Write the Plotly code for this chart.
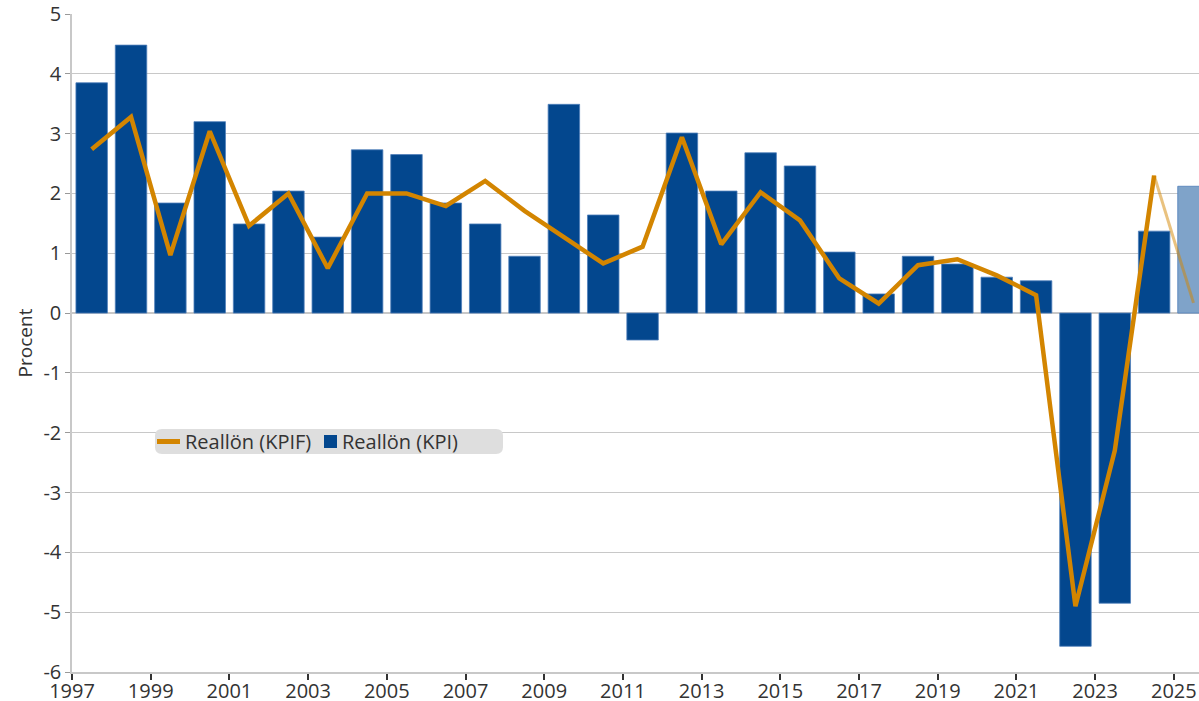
import plotly.graph_objects as go

years = list(range(1997, 2026))
kpi = [3.85, 4.48, 1.84, 3.20, 1.49, 2.04, 1.27, 2.73, 2.65, 1.84,
       1.49, 0.95, 3.49, 1.64, -0.45, 3.01, 2.04, 2.68, 2.46, 1.02,
       0.32, 0.95, 0.82, 0.60, 0.54, -5.57, -4.85, 1.37, 2.12]
kpif = [2.74, 3.28, 0.97, 3.04, 1.46, 2.00, 0.75, 2.00, 2.00, 1.79,
        2.21, 1.71, 1.27, 0.83, 1.11, 2.94, 1.15, 2.02, 1.55, 0.58,
        0.16, 0.80, 0.90, 0.63, 0.30, -4.90, -2.30, 2.30, 0.17]
xticks = list(range(1997, 2026, 2))
yticks = list(range(-6, 6))
legend_names = ["Reallön (KPIF)", "Reallön (KPI)"]

BLUE = "#03478E"
LIGHT_BLUE = "#7FA3C9"
ORANGE = "#D38500"
FONT = "Open Sans"

W, H = 1199, 701
ML, MR, MT, MB = 72, 0, 14, 29
PW, PH = W - ML - MR, H - MT - MB


def px(x):  # pixel x -> paper
    return (x - ML) / PW


def py(y):  # pixel y -> paper
    return (H - MB - y) / PH


xc = [y + 0.5 for y in years]
bar_colors = [BLUE] * (len(years) - 1) + [LIGHT_BLUE]

fig = go.Figure()
fig.add_trace(go.Scatter(
    x=xc[:-1], y=kpif[:-1], mode="lines", name=legend_names[0],
    line=dict(color=ORANGE, width=4.5), showlegend=False,
))
fig.add_trace(go.Scatter(
    x=xc[-2:], y=kpif[-2:], mode="lines", showlegend=False,
    line=dict(color="rgba(211,133,0,0.5)", width=3),
))
fig.add_trace(go.Bar(
    x=xc, y=kpi, name=legend_names[1], width=0.8, showlegend=False,
    marker=dict(color=bar_colors, line=dict(color="#4F7FBA", width=0.8)),
))

# custom legend box (pixel coords)
bx0, bx1, by0, by1 = 155, 503, 429, 454
rx, ry = 7 / PW, 7 / PH
X0, X1, Y0, Y1 = px(bx0), px(bx1), py(by1), py(by0)
path = (f"M {X0+rx},{Y0} L {X1-rx},{Y0} Q {X1},{Y0} {X1},{Y0+ry} "
        f"L {X1},{Y1-ry} Q {X1},{Y1} {X1-rx},{Y1} L {X0+rx},{Y1} "
        f"Q {X0},{Y1} {X0},{Y1-ry} L {X0},{Y0+ry} Q {X0},{Y0} {X0+rx},{Y0} Z")
shapes = [
    dict(type="path", path=path, xref="paper", yref="paper",
         fillcolor="#DEDEDE", line=dict(width=0), layer="above"),
    dict(type="line", xref="paper", yref="paper",
         x0=px(157), x1=px(180), y0=py(441.5), y1=py(441.5),
         line=dict(color=ORANGE, width=5), layer="above"),
    dict(type="rect", xref="paper", yref="paper",
         x0=px(324), x1=px(337), y0=py(448), y1=py(435),
         fillcolor=BLUE, line=dict(width=0), layer="above"),
]
annotations = [
    dict(text=legend_names[0], xref="paper", yref="paper",
         x=px(183), y=py(441.5), xanchor="left", yanchor="middle",
         showarrow=False, font=dict(size=20, color="#333333")),
    dict(text=legend_names[1], xref="paper", yref="paper",
         x=px(340), y=py(441.5), xanchor="left", yanchor="middle",
         showarrow=False, font=dict(size=20, color="#333333")),
]

fig.update_layout(
    width=W, height=H,
    margin=dict(l=ML, r=MR, t=MT, b=MB, autoexpand=False),
    paper_bgcolor="white", plot_bgcolor="white",
    font=dict(family=FONT, size=19, color="#333333"),
    showlegend=False,
    shapes=shapes, annotations=annotations,
)
fig.update_xaxes(
    range=[1997, 2025.64], tickmode="array", tickvals=xticks,
    ticktext=[str(t) for t in xticks], automargin=False,
    showgrid=False, showline=True, linecolor="#C8C8C8", linewidth=1.5,
    ticks="outside", ticklen=6, tickcolor="#333333", tickwidth=1.5,
    zeroline=False, tickfont=dict(size=20), fixedrange=True,
    ticklabelstandoff=-6,
)
fig.update_yaxes(
    range=[-6, 5], tickmode="array", tickvals=yticks,
    ticktext=[str(t) for t in yticks], automargin=False,
    showgrid=True, gridcolor="#C8C8C8", gridwidth=1,
    showline=True, linecolor="#C8C8C8", linewidth=1.5,
    ticks="outside", ticklen=5, tickcolor="#999999",
    zeroline=True, zerolinecolor="#C8C8C8", zerolinewidth=1.5,
    title=dict(text="Procent", standoff=6, font=dict(size=19)),
    tickfont=dict(size=20), fixedrange=True,
)

fig.write_html(
    "out.html",
    config={"displayModeBar": False},
    post_script="document.body.style.margin='0';document.body.style.overflow='hidden';",
)
